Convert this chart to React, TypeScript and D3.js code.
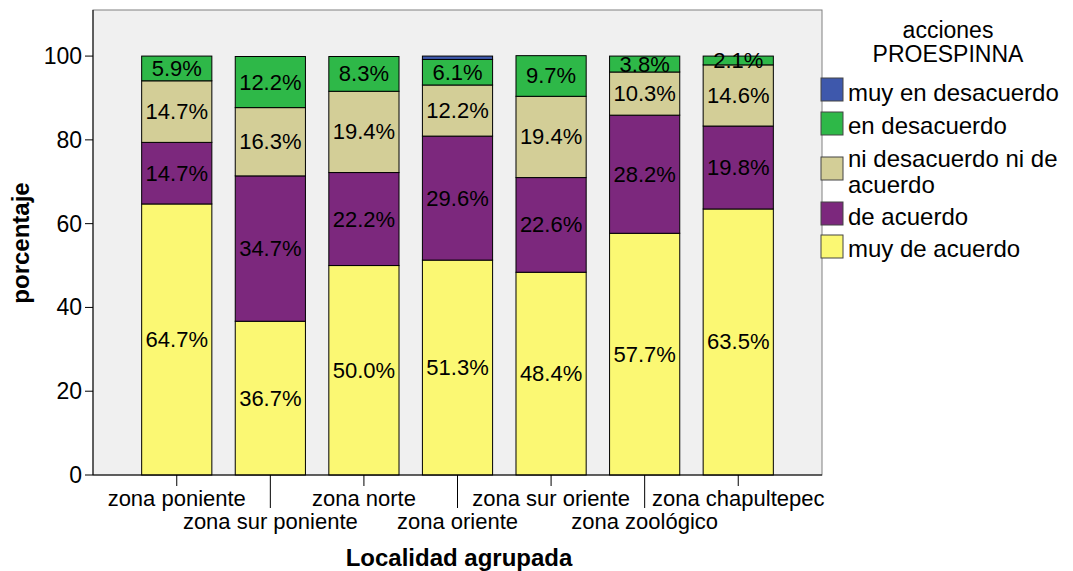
import React from "react";
import * as d3 from "d3";

const categories = [
  "zona poniente",
  "zona sur poniente",
  "zona norte",
  "zona oriente",
  "zona sur oriente",
  "zona zoológico",
  "zona chapultepec",
];
const seriesNames = [
  "muy de acuerdo",
  "de acuerdo",
  "ni desacuerdo ni de acuerdo",
  "en desacuerdo",
  "muy en desacuerdo",
];
const muyDeAcuerdo = [64.7, 36.7, 50.0, 51.3, 48.4, 57.7, 63.5];
const deAcuerdo = [14.7, 34.7, 22.2, 29.6, 22.6, 28.2, 19.8];
const niNi = [14.7, 16.3, 19.4, 12.2, 19.4, 10.3, 14.6];
const enDesacuerdo = [5.9, 12.2, 8.3, 6.1, 9.7, 3.8, 2.1];
const muyEnDesacuerdo = [0, 0, 0, 0.8, 0, 0, 0];
const yTicks = [0, 20, 40, 60, 80, 100];
const colors = ["#fbf873", "#7c287d", "#d3ce97", "#2eb848", "#3e58ac"];
const legendOrder = [4, 3, 2, 1, 0];
const legendLines: string[][] = [
  ["muy de acuerdo"],
  ["de acuerdo"],
  ["ni desacuerdo ni de", "acuerdo"],
  ["en desacuerdo"],
  ["muy en desacuerdo"],
];

const FONT = "'Liberation Sans', Arial, sans-serif";

export default function App() {
  const W = 1073, H = 571;
  const left = 93, right = 822, top = 10, bottom = 475;
  const values = [muyDeAcuerdo, deAcuerdo, niNi, enDesacuerdo, muyEnDesacuerdo];
  const rows = categories.map((c, i) => {
    const r: any = { cat: c };
    seriesNames.forEach((s, k) => (r[s] = values[k][i]));
    return r;
  });
  const stack = d3.stack<any>().keys(seriesNames)(rows);
  const x = d3.scaleBand().domain(categories).range([left, right]).paddingInner(0.25).paddingOuter(0.52);
  const y = d3.scaleLinear().domain([0, 111]).range([bottom, top]);
  const fs = 22;

  const swatchY = [78, 112, 157, 202, 235];
  const textY = [101, 134, 167, 225, 257];

  return (
    <div style={{ position: "absolute", left: 0, top: 0 }}>
      <svg width={W} height={H} style={{ display: "block", fontFamily: FONT }}>
        <rect x={0} y={0} width={W} height={H} fill="#fff" />
        <rect x={left} y={top} width={right - left} height={bottom - top} fill="#f0f0f0" stroke="#808080" strokeWidth={1} />
        {stack.map((layer, k) =>
          layer.map((d, i) => {
            const h = y(d[0]) - y(d[1]);
            if (h <= 0) return null;
            return (
              <rect key={`${k}-${i}`} x={x(categories[i])!} y={y(d[1])} width={x.bandwidth()} height={h}
                fill={colors[k]} stroke="#000" strokeWidth={1} />
            );
          })
        )}
        {stack.map((layer, k) =>
          layer.map((d, i) => {
            const v = d[1] - d[0];
            if (v < 2) return null;
            return (
              <text key={`t${k}-${i}`} x={x(categories[i])! + x.bandwidth() / 2} y={(y(d[0]) + y(d[1])) / 2}
                textAnchor="middle" dominantBaseline="central" fontSize={fs} fill="#000">
                {v.toFixed(1)}%
              </text>
            );
          })
        )}
        {/* y axis */}
        <line x1={left} x2={left} y1={top} y2={bottom} stroke="#000" />
        {yTicks.map((t) => (
          <g key={t}>
            <line x1={left - 8} x2={left} y1={y(t)} y2={y(t)} stroke="#000" />
            <text x={left - 11} y={y(t)} textAnchor="end" dominantBaseline="central" fontSize={23}>{t}</text>
          </g>
        ))}
        {/* x axis */}
        <line x1={left} x2={right} y1={bottom} y2={bottom} stroke="#000" />
        {categories.map((c, i) => {
          const cx = x(c)! + x.bandwidth() / 2;
          const second = i % 2 === 1;
          return (
            <g key={c}>
              <line x1={cx} x2={cx} y1={bottom} y2={second ? 508 : 486} stroke="#000" />
              <text x={cx} y={second ? 529 : 506} textAnchor="middle" fontSize={fs}>{c}</text>
            </g>
          );
        })}
        <text x={459} y={566} textAnchor="middle" fontSize={24} fontWeight="bold">Localidad agrupada</text>
        <text transform={`translate(29,243) rotate(-90)`} textAnchor="middle" fontSize={24} fontWeight="bold">porcentaje</text>
        {/* legend */}
        <text x={948} y={38} textAnchor="middle" fontSize={23}>acciones</text>
        <text x={948} y={62} textAnchor="middle" fontSize={23}>PROESPINNA</text>
        {legendOrder.map((k, j) => (
          <g key={k}>
            <rect x={821} y={swatchY[j]} width={22} height={23} fill={colors[k]} stroke="#444" strokeWidth={1} />
            {legendLines[k].map((ln, m) => (
              <text key={m} x={848} y={textY[j] + m * 26} fontSize={24}>{ln}</text>
            ))}
          </g>
        ))}
      </svg>
    </div>
  );
}
